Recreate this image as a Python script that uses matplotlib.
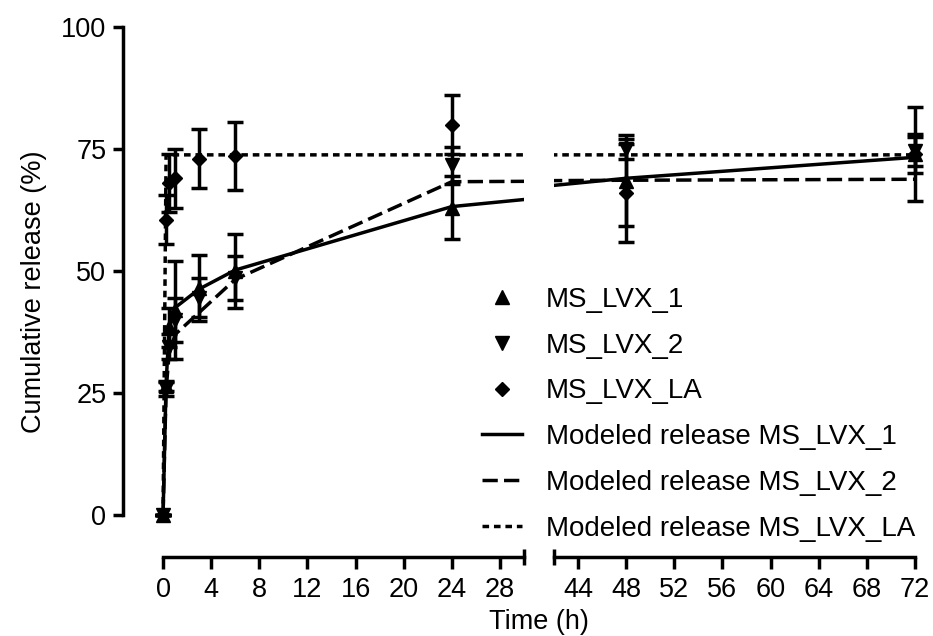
import numpy as np
import matplotlib
matplotlib.use("Agg")
import matplotlib.pyplot as plt
from matplotlib.lines import Line2D

plt.rcParams['font.family'] = ['Liberation Sans', 'DejaVu Sans']

# sampling times (h)
times = np.array([0, 0.25, 0.5, 1, 3, 6, 24, 48, 72])

# measured release (%) and SD
ms_lvx_1 = np.array([0, 26.5, 38.5, 42, 46.5, 50, 63, 68.5, 74])
ms_lvx_1_err = np.array([0, 1, 4, 10, 6.8, 7.6, 6.5, 9.3, 4])
ms_lvx_2 = np.array([0, 25.8, 34.5, 40, 44.5, 48.5, 71.7, 75, 74.5])
ms_lvx_2_err = np.array([0, 1.5, 2.5, 4.5, 4, 4.5, 3.8, 2, 3])
ms_lvx_la = np.array([0, 60.5, 68, 69, 73, 73.5, 80, 66, 74])
ms_lvx_la_err = np.array([0, 5, 6, 6, 6, 7, 6, 10, 9.7])

# modeled release (%)
model_1 = np.array([0, 27, 38, 42.5, 46.3, 50.2, 63.2, 69, 73.3])
model_2 = np.array([0, 25.5, 33, 37, 41.5, 48.3, 68.3, 68.6, 68.8])
model_la = np.array([0, 73.8, 73.8, 73.8, 73.8, 73.8, 73.8, 73.8, 73.8])

yticks = [0, 25, 50, 75, 100]
xticks_1 = [0, 4, 8, 12, 16, 20, 24, 28]
xticks_2 = [44, 48, 52, 56, 60, 64, 68, 72]

seg1 = (0, 30)
seg2 = (42, 72)
y_lo, y_hi = -8.6, 100
x_pad = 3.33

LW = 2.5
FS = 19.5
FS_LEG = 20
dash_style = (0, (4.4, 1.8))
dot_style = (0, (1.9, 1.4))

fig = plt.figure(figsize=(9.33, 6.36), dpi=100)
W, H = 933, 636
ax1 = fig.add_axes([123 / W, (H - 557) / H, (524 - 123) / W, (557 - 27) / H])
ax2 = fig.add_axes([554 / W, (H - 557) / H, (915 - 554) / W, (557 - 27) / H])

series = [
    (ms_lvx_1, ms_lvx_1_err, '^', 10),
    (ms_lvx_2, ms_lvx_2_err, 'v', 10),
    (ms_lvx_la, ms_lvx_la_err, 'D', 7.5),
]
models = [(model_1, '-'), (model_2, dash_style), (model_la, dot_style)]

for ax, (lo, hi) in [(ax1, seg1), (ax2, seg2)]:
    for vals, ls in models:
        ax.plot(times, vals, color='black', lw=LW, ls=ls, zorder=2)
    m = (times >= lo) & (times <= hi)
    for vals, err, mk, ms in series:
        ax.errorbar(times[m], vals[m], yerr=err[m], fmt=mk, ms=ms, color='black',
                    ecolor='black', elinewidth=LW, capsize=5.5, capthick=LW,
                    clip_on=False, zorder=3)
    ax.set_ylim(y_lo, y_hi)
    for s in ['top', 'right']:
        ax.spines[s].set_visible(False)
    for s in ax.spines.values():
        s.set_linewidth(LW)
    ax.tick_params(axis='x', length=8.5, width=LW, labelsize=FS, pad=6)
    ax.tick_params(axis='y', length=7, width=LW, labelsize=FS, pad=5)

ax1.set_xlim(seg1[0] - x_pad, seg1[1])
ax1.spines['bottom'].set_bounds(*seg1)
ax1.spines['left'].set_bounds(0, 100)
ax1.set_xticks(xticks_1)
ax1.set_yticks(yticks)
ax1.set_ylabel('Cumulative release (%)', fontsize=FS, labelpad=10)

ax2.set_xlim(*seg2)
ax2.spines['left'].set_visible(False)
ax2.set_xticks(xticks_2)
ax2.set_yticks([])

# axis break caps
ax1.plot([seg1[1]], [y_lo], marker='|', ms=12, mew=LW, color='black', clip_on=False)
ax2.plot([seg2[0]], [y_lo], marker='|', ms=12, mew=LW, color='black', clip_on=False)

fig.text(539 / W, 14 / H, 'Time (h)', fontsize=FS, ha='center', va='center')

handles = [
    Line2D([], [], marker='^', ls='none', color='black', ms=10),
    Line2D([], [], marker='v', ls='none', color='black', ms=10),
    Line2D([], [], marker='D', ls='none', color='black', ms=7.5),
    Line2D([], [], ls='-', lw=LW, color='black'),
    Line2D([], [], ls=dash_style, lw=LW, color='black'),
    Line2D([], [], ls=dot_style, lw=LW, color='black'),
]
labels = ['MS_LVX_1', 'MS_LVX_2', 'MS_LVX_LA', 'Modeled release MS_LVX_1',
          'Modeled release MS_LVX_2', 'Modeled release MS_LVX_LA']
fig.legend(handles, labels, loc='upper left', bbox_to_anchor=(482 / W, 1 - 287 / H),
           frameon=False, borderpad=0, borderaxespad=0, handlelength=1.45,
           handletextpad=0.85, labelspacing=0.71, fontsize=FS_LEG, numpoints=1)

fig.savefig('out.png', dpi=100)
